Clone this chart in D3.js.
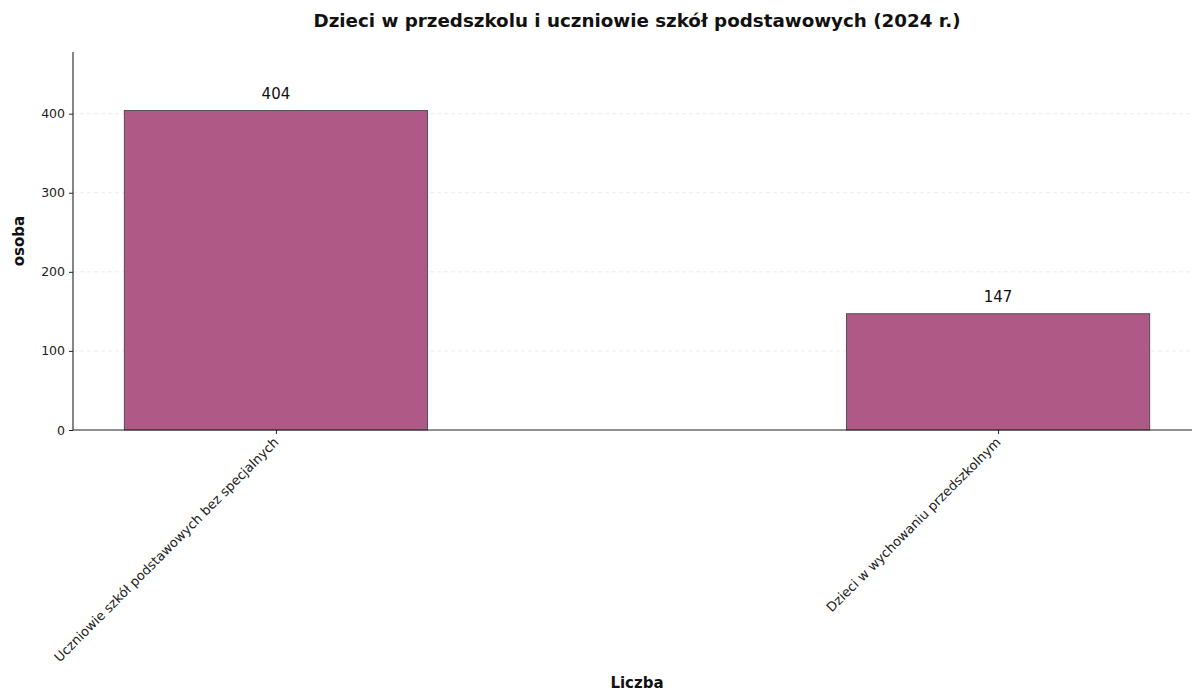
<!DOCTYPE html>
<html>
<head>
<meta charset="utf-8">
<script src="https://cdn.jsdelivr.net/npm/d3@7"></script>
<style>
body { margin: 0; background: #fff; }
svg { display: block; font-family: "DejaVu Sans", sans-serif; }
</style>
</head>
<body>
<svg id="chart" width="1192" height="691"></svg>
<script>
const categories = ["Uczniowie szkół podstawowych bez specjalnych", "Dzieci w wychowaniu przedszkolnym"];
const values = [404, 147];
const yTicks = [0, 100, 200, 300, 400];
const title = "Dzieci w przedszkolu i uczniowie szkół podstawowych (2024 r.)";
const xLabel = "Liczba";
const yLabel = "osoba";

(function () {
const svg = d3.select("#chart");
const mLeft = 73, mRight = 1201, mTop = 52, mBottom = 430;
const barW = 0.42;

const x = d3.scaleLinear().domain([-0.281, 1.281]).range([mLeft, mRight]);
const y = d3.scaleLinear().domain([0, 478]).range([mBottom, mTop]);

// grid
svg.append("g").selectAll("line").data(yTicks.filter(d => d > 0)).join("line")
  .attr("x1", mLeft).attr("x2", 1192)
  .attr("y1", d => y(d)).attr("y2", d => y(d))
  .attr("stroke", "#d9d9d9").attr("stroke-width", 0.8)
  .attr("stroke-dasharray", "4,3").attr("opacity", 0.6);

// bars
svg.append("g").selectAll("rect").data(values).join("rect")
  .attr("x", (d, i) => x(i - barW / 2))
  .attr("width", (d, i) => x(i + barW / 2) - x(i - barW / 2))
  .attr("y", d => y(d))
  .attr("height", d => y(0) - y(d))
  .attr("fill", "#af5a86")
  .attr("stroke", "#3a3a3a").attr("stroke-width", 0.8);

// value labels
svg.append("g").selectAll("text").data(values).join("text")
  .attr("x", (d, i) => x(i))
  .attr("y", d => y(d) - 12)
  .attr("text-anchor", "middle")
  .attr("font-size", 15).attr("fill", "#111")
  .text(d => d);

// y axis
const yAxis = svg.append("g").attr("transform", `translate(${mLeft},0)`)
  .call(d3.axisLeft(y).tickValues(yTicks).tickSize(4).tickPadding(4));
yAxis.select(".domain").attr("d", `M0,${mTop}V${mBottom}`).attr("stroke", "#222").attr("stroke-width", 1.1);
yAxis.selectAll(".tick line").attr("stroke", "#222");
yAxis.selectAll(".tick text").attr("font-size", 12.5).attr("fill", "#222").attr("font-family", "DejaVu Sans");

// x axis
const xAxis = svg.append("g").attr("transform", `translate(0,${mBottom})`)
  .call(d3.axisBottom(x).tickValues([0, 1]).tickFormat(i => categories[i]).tickSize(4).tickPadding(2));
xAxis.select(".domain").attr("d", `M${mLeft},0H1192`).attr("stroke", "#222").attr("stroke-width", 1.1);
xAxis.selectAll(".tick line").attr("stroke", "#222");
xAxis.selectAll(".tick text")
  .attr("font-size", 13).attr("fill", "#222").attr("font-family", "DejaVu Sans")
  .attr("text-anchor", "end")
  .attr("dy", null)
  .attr("transform", "translate(3,13) rotate(-45)")
  .attr("y", 0).attr("x", 0);

// title
svg.append("text").attr("x", 637).attr("y", 27)
  .attr("text-anchor", "middle").attr("font-size", 18.3).attr("font-weight", "bold")
  .attr("fill", "#111").text(title);

// axis labels
svg.append("text").attr("x", 637).attr("y", 688)
  .attr("text-anchor", "middle").attr("font-size", 15).attr("font-weight", "bold")
  .attr("fill", "#111").text(xLabel);
svg.append("text").attr("transform", `translate(24,${(mTop + mBottom) / 2}) rotate(-90)`)
  .attr("text-anchor", "middle").attr("font-size", 15).attr("font-weight", "bold")
  .attr("fill", "#111").text(yLabel);
})();
</script>
</body>
</html>
